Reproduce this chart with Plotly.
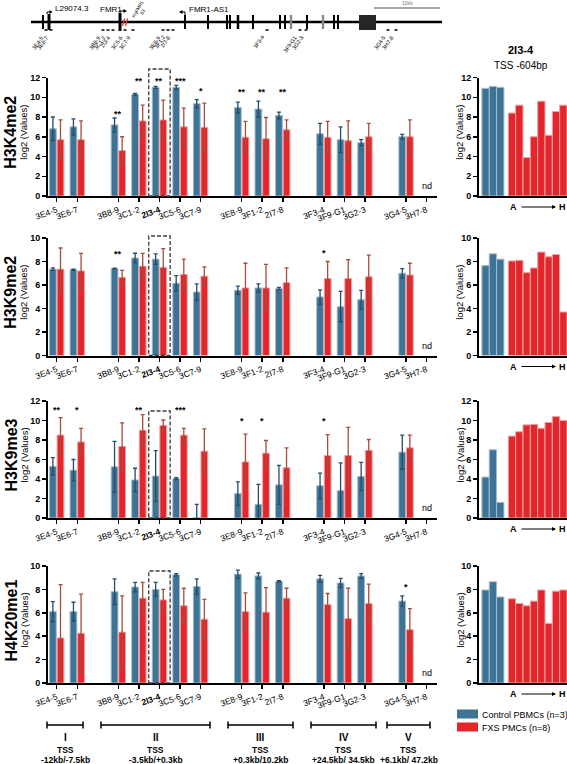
import plotly.graph_objects as go

W, H = 567, 764
FONT = "Arial, Liberation Sans, sans-serif"

# ---------------- data ----------------
categories = ["3E4-5", "3E6-7", "3B8-9", "3C1-2", "2I3-4", "3C5-6", "3C7-9",
              "3E8-9", "3F1-2", "2I7-8", "3F3-4", "3F9-G1", "3G2-3", "3G4-5", "3H7-8"]
cat_pos = [0, 1, 3, 4, 5, 6, 7, 9, 10, 11, 13, 14, 15, 17, 18]
n_detected = 14  # 3H7-8: nd

marks = ["H3K4me2", "H3K9me2", "H3K9me3", "H4K20me1"]
y_max = [12, 10, 12, 10]

k4me2_ctrl = [6.8, 7.0, 7.2, 10.3, 11.0, 11.0, 9.35, 8.95, 8.8, 8.15, 6.3, 5.7, 5.4, 6.0]
k4me2_ctrl_err = [1.2, 0.8, 0.7, 0.1, 0.1, 0.2, 0.4, 0.55, 0.8, 0.35, 1.05, 1.3, 0.3, 0.25]
k4me2_fxs = [5.7, 5.7, 4.6, 7.6, 7.7, 7.0, 6.95, 5.95, 5.8, 6.7, 5.95, 5.6, 6.0, 6.0]
k4me2_fxs_err = [2.0, 1.9, 1.4, 1.6, 2.0, 1.9, 2.45, 1.6, 2.15, 1.0, 1.6, 2.0, 1.35, 1.7]
k4me2_sig = ["", "", "**", "**", "**", "***", "*", "**", "**", "**", "", "", "", ""]
k4me2_sig_y = [0, 0, 8.6, 12.0, 12.0, 12.0, 10.9, 10.8, 10.8, 10.8, 0, 0, 0, 0]

k9me2_ctrl = [7.35, 7.3, 7.4, 8.3, 8.2, 6.15, 5.4, 5.55, 5.75, 5.7, 4.98, 4.15, 4.75, 7.0]
k9me2_ctrl_err = [0.1, 0.05, 0.03, 0.4, 0.45, 0.65, 0.7, 0.35, 0.35, 0.1, 0.6, 1.3, 0.8, 0.4]
k9me2_fxs = [7.35, 7.2, 6.65, 7.6, 7.5, 6.9, 6.75, 5.75, 5.75, 6.2, 6.55, 6.55, 6.7, 6.85]
k9me2_fxs_err = [1.8, 1.5, 0.6, 1.1, 1.6, 1.3, 0.8, 2.1, 2.0, 1.25, 1.45, 1.6, 1.85, 1.0]
k9me2_sig = ["", "", "**", "", "", "", "", "", "", "", "*", "", "", ""]
k9me2_sig_y = [0, 0, 8.9, 0, 0, 0, 0, 0, 0, 0, 9.0, 0, 0, 0]

k9me3_ctrl = [5.3, 4.9, 5.25, 3.9, 4.3, 4.05, 0.05, 2.5, 1.4, 3.4, 3.3, 2.8, 4.25, 6.75]
k9me3_ctrl_err = [0.9, 1.1, 2.6, 1.2, 2.6, 0.1, 1.35, 1.2, 2.05, 2.0, 1.3, 2.85, 1.45, 1.75]
k9me3_fxs = [8.5, 7.8, 7.35, 9.0, 9.5, 8.5, 6.85, 5.75, 6.65, 5.15, 6.4, 6.4, 6.95, 7.2]
k9me3_fxs_err = [1.8, 1.4, 2.4, 1.6, 0.55, 0.7, 2.3, 2.85, 1.3, 2.05, 2.15, 2.9, 1.1, 1.3]
k9me3_sig = ["**", "*", "", "**", "", "***", "", "*", "*", "", "*", "", "", ""]
k9me3_sig_y = [11.4, 11.4, 0, 11.4, 0, 11.4, 0, 10.3, 10.3, 0, 10.3, 0, 0, 0]

k20me1_ctrl = [6.1, 6.1, 7.8, 8.2, 8.0, 9.25, 8.25, 9.3, 9.15, 8.7, 8.9, 8.55, 9.15, 7.0]
k20me1_ctrl_err = [0.85, 0.8, 1.1, 0.4, 0.6, 0.1, 0.65, 0.35, 0.25, 0.05, 0.3, 0.4, 0.2, 0.45]
k20me1_fxs = [3.85, 4.25, 4.35, 7.25, 7.1, 6.6, 5.45, 6.1, 6.05, 7.25, 6.7, 5.5, 6.8, 4.55]
k20me1_fxs_err = [4.55, 3.35, 3.1, 1.35, 0.9, 1.5, 1.7, 1.6, 2.1, 0.85, 0.95, 2.6, 1.65, 1.8]
k20me1_sig = ["", "", "*", "", "", "**", "**", "***", "**", "**", "***", "*", "**", "*"]
k20me1_sig_y = [0, 0, 10.1, 0, 0, 10.1, 10.1, 10.1, 10.1, 10.1, 10.1, 10.1, 10.1, 8.5]

# 2I3-4 (TSS -604bp): individual samples, controls (3) and FXS A..H (8)
r_k4me2_ctrl = [10.9, 11.1, 11.0]
r_k4me2_fxs = [8.4, 9.2, 3.9, 6.0, 9.6, 6.15, 8.55, 9.2]
r_k9me2_ctrl = [7.65, 8.65, 8.2]
r_k9me2_fxs = [8.05, 8.1, 7.05, 7.45, 8.8, 8.4, 8.6, 3.7]
r_k9me3_ctrl = [4.2, 7.0, 1.6]
r_k9me3_fxs = [8.4, 8.85, 9.55, 9.6, 9.2, 9.8, 10.4, 10.0]
r_k20me1_ctrl = [7.95, 8.65, 7.35]
r_k20me1_fxs = [7.2, 6.8, 6.6, 7.0, 7.95, 5.1, 7.85, 7.95]

regions = ["I", "II", "III", "IV", "V"]
region_tss = ["-12kb/-7.5kb", "-3.5kb/+0.3kb", "+0.3kb/10.2kb", "+24.5kb/ 34.5kb", "+6.1kb/ 47.2kb"]

panels = [
    (k4me2_ctrl, k4me2_ctrl_err, k4me2_fxs, k4me2_fxs_err, k4me2_sig, k4me2_sig_y, r_k4me2_ctrl, r_k4me2_fxs),
    (k9me2_ctrl, k9me2_ctrl_err, k9me2_fxs, k9me2_fxs_err, k9me2_sig, k9me2_sig_y, r_k9me2_ctrl, r_k9me2_fxs),
    (k9me3_ctrl, k9me3_ctrl_err, k9me3_fxs, k9me3_fxs_err, k9me3_sig, k9me3_sig_y, r_k9me3_ctrl, r_k9me3_fxs),
    (k20me1_ctrl, k20me1_ctrl_err, k20me1_fxs, k20me1_fxs_err, k20me1_sig, k20me1_sig_y, r_k20me1_ctrl, r_k20me1_fxs),
]

# ---------------- styling / layout helpers ----------------
BLUE, RED = "#3d7395", "#e2262c"
BLUE_EDGE, RED_EDGE = "#a9bac7", "#f0a4a4"
BLUE_ERR, RED_ERR = "#234d69", "#a64d3b"


def fx(px):
    return px / W


def fy(py):
    return 1 - py / H


# pixel rows of each panel (top of axis, zero line)
rows_px = [(77.5, 196), (238, 355.5), (401, 518), (566, 683)]
box_top_px = [69, 236, 411, 571]
main_x_px = (48, 437)
right_x_px = (479, 567)
cat0_px, cat_step = 56.7, 20.55
main_range = [(main_x_px[0] - cat0_px) / cat_step, (main_x_px[1] - cat0_px) / cat_step]


def cat_px(i):
    return cat0_px + cat_step * i


fig = go.Figure()
shapes = []
annos = []


def A(text, x, y, size=9, bold=False, xanchor="center", yanchor="middle", angle=0,
      color="black", xref="paper", yref="paper", **kw):
    annos.append(dict(text=text, x=x, y=y, xref=xref, yref=yref, showarrow=False,
                      xanchor=xanchor, yanchor=yanchor, textangle=angle,
                      font=dict(family=FONT, size=size, color=color,
                                weight="bold" if bold else "normal"), **kw))


def L(x0, y0, x1, y1, color="black", width=1, dash=None):
    shapes.append(dict(type="line", xref="paper", yref="paper",
                       x0=fx(x0), y0=fy(y0), x1=fx(x1), y1=fy(y1),
                       line=dict(color=color, width=width, dash=dash)))


def R(x0, y0, x1, y1, fill="black", line=None, width=0, dash=None):
    shapes.append(dict(type="rect", xref="paper", yref="paper",
                       x0=fx(x0), y0=fy(y0), x1=fx(x1), y1=fy(y1), fillcolor=fill,
                       line=dict(color=line or fill, width=width, dash=dash)))


def P(points, fill="black"):
    path = "M " + " L ".join(f"{fx(x)},{fy(y)}" for x, y in points) + " Z"
    shapes.append(dict(type="path", xref="paper", yref="paper", path=path,
                       fillcolor=fill, line=dict(color=fill, width=0)))


layout_axes = {}
ticktext = [f"<b>{c}</b>" if c == "2I3-4" else c for c in categories]

for k, (ctrl, ctrl_e, fxs, fxs_e, sig, sig_y, rc, rf) in enumerate(panels):
    top, bot = rows_px[k]
    n = k + 1
    xa, ya = f"x{n if n > 1 else ''}", f"y{n if n > 1 else ''}"
    rn = k + 5
    rxa, rya = f"x{rn}", f"y{rn}"

    axis_common = dict(showgrid=False, zeroline=False, showline=True, linecolor="black",
                       linewidth=2, ticks="outside", ticklen=4, tickwidth=1.5,
                       tickcolor="black", automargin=False)
    layout_axes[f"xaxis{n if n > 1 else ''}"] = dict(
        domain=[fx(main_x_px[0]), fx(main_x_px[1])], range=main_range, anchor=ya,
        tickvals=cat_pos, ticktext=ticktext, tickangle=-20,
        tickfont=dict(family=FONT, size=8.5, color="black"), **axis_common)
    layout_axes[f"yaxis{n if n > 1 else ''}"] = dict(
        domain=[fy(bot), fy(top)], range=[0, y_max[k]], dtick=2, anchor=xa,
        tickfont=dict(family=FONT, size=9, color="black", weight="bold"), **axis_common)

    xs = cat_pos[:n_detected]
    fig.add_trace(go.Bar(x=xs, y=ctrl, width=0.33, offset=-0.35, xaxis=xa, yaxis=ya,
                         marker=dict(color=BLUE, line=dict(color=BLUE_EDGE, width=1)),
                         error_y=dict(type="data", array=ctrl_e, color=BLUE_ERR,
                                      thickness=1.3, width=2),
                         showlegend=False, name="Control PBMCs (n=3)"))
    fig.add_trace(go.Bar(x=xs, y=fxs, width=0.33, offset=0.02, xaxis=xa, yaxis=ya,
                         marker=dict(color=RED, line=dict(color=RED_EDGE, width=1)),
                         error_y=dict(type="data", array=fxs_e, color=RED_ERR,
                                      thickness=1.3, width=2),
                         showlegend=False, name="FXS PMCs (n=8)"))

    for i, s in enumerate(sig):
        if s:
            A(s, cat_pos[i], sig_y[i], size=9, bold=True, xref=xa, yref=ya, yshift=-3)
    A("nd", cat_pos[-1], 1.0 if y_max[k] == 12 else 0.85, size=9, xref=xa, yref=ya)

    # dashed box around 2I3-4
    c = cat_px(cat_pos[categories.index("2I3-4")])
    R(c - 10.7, bot, c + 10.7, box_top_px[k], fill="rgba(0,0,0,0)", line="#3a3a3a",
      width=1.3, dash="4px,2px")

    # panel labels
    mid = (top + bot) / 2 - 4
    A(marks[k], fx(11), fy(mid), size=16, bold=True, angle=-90)
    A("log2 (Values)", fx(24), fy(mid), size=9.5, angle=-90)

    # right panel: 2I3-4 individual samples
    layout_axes[f"xaxis{rn}"] = dict(
        domain=[fx(right_x_px[0]), fx(right_x_px[1])], range=[-0.9, 11.1], anchor=rya,
        showgrid=False, zeroline=False, showline=True, linecolor="black", linewidth=2,
        showticklabels=False, ticks="", automargin=False)
    layout_axes[f"yaxis{rn}"] = dict(
        domain=[fy(bot), fy(top)], range=[0, y_max[k]], dtick=2, anchor=rxa,
        tickfont=dict(family=FONT, size=9, color="black", weight="bold"), **axis_common)
    fig.add_trace(go.Bar(x=list(range(len(rc))), y=rc, width=1, xaxis=rxa, yaxis=rya,
                         marker=dict(color=BLUE, line=dict(color=BLUE_EDGE, width=1)),
                         showlegend=False))
    fig.add_trace(go.Bar(x=[3.6 + i for i in range(len(rf))], y=rf, width=1, xaxis=rxa,
                         yaxis=rya,
                         marker=dict(color=RED, line=dict(color=RED_EDGE, width=1)),
                         showlegend=False))
    A("log2 (Values)", fx(460), fy(mid), size=9.5, angle=-90)
    ay = bot + 11
    A("A", fx(513), fy(ay), size=9, bold=True)
    A("H", fx(562), fy(ay), size=9, bold=True)
    annos.append(dict(x=fx(556), y=fy(ay), xref="paper", yref="paper", text="",
                      showarrow=True, ax=-36, ay=0, arrowhead=2, arrowsize=0.8,
                      arrowwidth=1, arrowcolor="black"))

# right column title
A("2I3-4", fx(521), fy(50), size=11, bold=True)
A("TSS -604bp", fx(521), fy(66), size=10)

# ---------------- gene diagram (top) ----------------
L(31, 22, 442, 22, width=2.5)
exons = [(43, 2, 7), (49, 3, 8), (120, 3, 9), (185, 2, 7), (208, 2, 7), (227, 2, 7),
         (230, 2, 7), (238, 2.5, 7), (253, 2, 7), (280, 2, 7), (285, 2, 7), (307, 2, 7),
         (334, 2, 7), (338, 2, 7)]
for x, w, h in exons:
    R(x - w / 2, 22 - h, x + w / 2, 22 + h)
for x in (291, 323):
    R(x - 1.2, 15, x + 1.2, 29, fill="#8a8a8a")
R(359, 15, 376, 30, fill="#262626")
L(122.5, 26, 124.5, 18.5, color="#e03030", width=1.2)
L(125.5, 26, 127.5, 18.5, color="#e03030", width=1.2)

# TSS arrows
L(47, 14, 47, 12, width=1)
L(47, 12, 50, 12, width=1)
P([(49.5, 10), (52.5, 12), (49.5, 14)])
L(120, 13, 120, 11, width=1)
L(120, 11, 124, 11, width=1)
P([(123.5, 9), (127, 11), (123.5, 13)])
L(185, 15, 185, 12, width=1)
L(185, 12, 182, 12, width=1)
P([(182.5, 10), (179, 12), (182.5, 14)])
A("L29074.3", fx(53), fy(8), size=8, xanchor="left")
A("FMR1", fx(111), fy(9), size=8)
A("FMR1-AS1", fx(187), fy(10), size=8, xanchor="left")
A("HqFMR1<br>83", fx(128), fy(24), size=4.5, angle=-60, xanchor="left", yanchor="bottom")

# scale bar
L(374, 8, 440, 8, color="#8c8c8c", width=1.5)
A("10kb", fx(407), fy(3), size=5, color="#777777")

# probe positions
probe_px = [46, 51, 103, 108, 113, 125, 133, 163, 168, 173, 267, 300, 306, 388, 396]
for lab, x in zip(categories, probe_px):
    L(x - 1.5, 30, x + 1.5, 30, width=1.5)
    A(lab, fx(x + 1), fy(32), size=5.5, angle=-55, xanchor="right", yanchor="top")

# ---------------- region brackets (bottom) ----------------
region_px = [(47, 83), (101, 210), (228, 293), (311, 376), (387, 430)]
for (x0, x1), rname, tss in zip(region_px, regions, region_tss):
    L(x0, 725, x1, 725, width=1.5)
    L(x0, 721.5, x0, 728.5, width=1.5)
    L(x1, 721.5, x1, 728.5, width=1.5)
    cx = (x0 + x1) / 2
    A(rname, fx(cx), fy(737), size=10, bold=True)
    A("TSS", fx(cx), fy(750), size=8.5, bold=True)
    A(tss, fx(cx), fy(760), size=8.5, bold=True)

# legend
R(457, 709.5, 478, 718.5, fill=BLUE)
R(457, 722.5, 478, 731.5, fill=RED)
A("Control PBMCs (n=3)", fx(480), fy(714.5), size=9, xanchor="left")
A("FXS PMCs (n=8)", fx(480), fy(727.5), size=9, xanchor="left")

fig.update_layout(
    template="none",
    width=W, height=H, margin=dict(l=0, r=0, t=0, b=0, pad=0, autoexpand=False),
    paper_bgcolor="white", plot_bgcolor="white", barmode="overlay",
    shapes=shapes, annotations=annos, showlegend=False, hovermode=False,
    font=dict(family=FONT, color="black"),
    **layout_axes)

fig.write_html("out.html", config={"displayModeBar": False, "staticPlot": True},
               post_script="document.body.style.margin='0';document.body.style.overflow='hidden';")
